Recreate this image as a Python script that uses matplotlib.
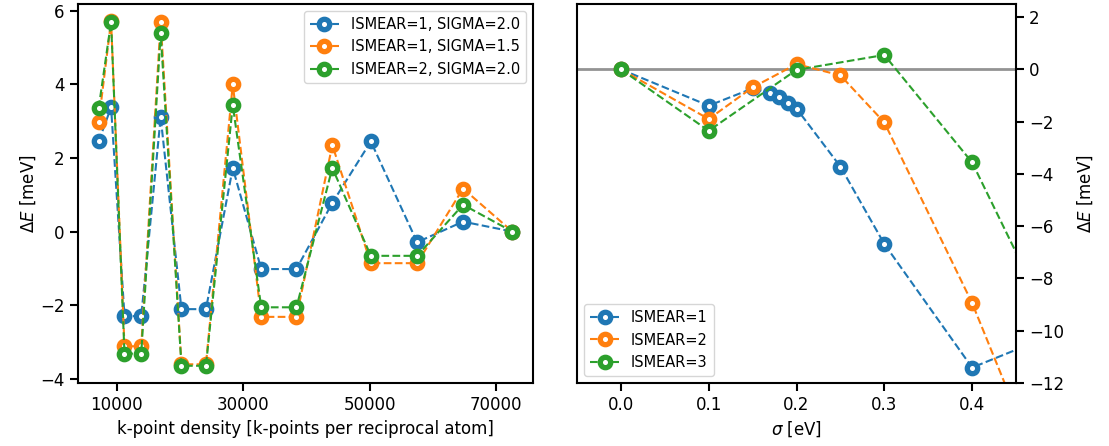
import matplotlib
matplotlib.use("Agg")
import matplotlib.pyplot as plt

# Left panel: k-point convergence
kdens = [7140, 9100, 11220, 13870, 16940, 20230, 24100, 28340, 32840, 38410, 44080, 50170, 57490, 64750, 72540]
dE_i1_s20 = [2.45, 3.38, -2.30, -2.30, 3.11, -2.11, -2.11, 1.73, -1.02, -1.02, 0.78, 2.45, -0.29, 0.27, 0.0]
dE_i1_s15 = [2.99, 5.72, -3.12, -3.12, 5.70, -3.61, -3.61, 4.00, -2.32, -2.32, 2.35, -0.86, -0.86, 1.17, 0.0]
dE_i2_s20 = [3.36, 5.70, -3.32, -3.32, 5.39, -3.65, -3.65, 3.44, -2.06, -2.06, 1.73, -0.66, -0.66, 0.73, 0.0]
left_labels = ["ISMEAR=1, SIGMA=2.0", "ISMEAR=1, SIGMA=1.5", "ISMEAR=2, SIGMA=2.0"]
left_xticks = [10000, 30000, 50000, 70000]

# Right panel: sigma convergence
sigma_1 = [0.0, 0.1, 0.15, 0.17, 0.18, 0.19, 0.2, 0.25, 0.3, 0.4, 0.5]
dE_1 = [0.0, -1.39, -0.73, -0.91, -1.07, -1.27, -1.50, -3.72, -6.68, -11.41, -10.05]
sigma_2 = [0.0, 0.1, 0.15, 0.2, 0.25, 0.3, 0.4, 0.5]
dE_2 = [0.0, -1.90, -0.69, 0.20, -0.23, -2.03, -8.94, -17.2]
sigma_3 = [0.0, 0.1, 0.2, 0.3, 0.4, 0.5]
dE_3 = [0.0, -2.35, -0.02, 0.55, -3.56, -10.44]
right_labels = ["ISMEAR=1", "ISMEAR=2", "ISMEAR=3"]
right_xticks = [0.0, 0.1, 0.2, 0.3, 0.4]
right_yticks = [2, 0, -2, -4, -6, -8, -10, -12]

plt.rcParams['font.family'] = ['DejaVu Sans']
plt.rcParams['font.size'] = 12

colors = ['#1f77b4', '#ff7f0e', '#2ca02c']
mk = dict(marker='o', ls='--', mfc='white', ms=7.5, mew=3.8, lw=1.5)

fig = plt.figure(figsize=(11.09, 4.46), dpi=100)
ax1 = fig.add_axes([78/1109, 1-383/446, (533-78)/1109, (383-4)/446])
ax2 = fig.add_axes([577/1109, 1-383/446, (1016-577)/1109, (383-4)/446])

for ys, lab, c in zip([dE_i1_s20, dE_i1_s15, dE_i2_s20], left_labels, colors):
    ax1.plot(kdens, ys, color=c, label=lab, **mk)
ax1.set_xticks(left_xticks)
ax1.set_xlabel("k-point density [k-points per reciprocal atom]")
ax1.set_ylabel(r"$\Delta E$ [meV]", labelpad=2)
ax1.legend(loc='upper right', fontsize=10.5)

ax2.axhline(0, color='gray', lw=2, alpha=0.85, zorder=1)
for xs, ys, lab, c in zip([sigma_1, sigma_2, sigma_3], [dE_1, dE_2, dE_3], right_labels, colors):
    ax2.plot(xs, ys, color=c, label=lab, **mk)
ax2.set_xlim(-0.05, 0.45)
ax2.set_ylim(-12, 2.5)
ax2.set_xticks(right_xticks)
ax2.set_yticks(right_yticks)
ax2.yaxis.tick_right()
ax2.yaxis.set_label_position('right')
ax2.set_xlabel(r"$\sigma$ [eV]")
ax2.set_ylabel(r"$\Delta E$ [meV]", labelpad=8)
ax2.legend(loc='lower left', fontsize=10.5)

for ax in (ax1, ax2):
    for s in ax.spines.values():
        s.set_linewidth(1.5)
    ax.tick_params(length=6, width=1.5, labelsize=12)

fig.savefig("out.png", dpi=100)
